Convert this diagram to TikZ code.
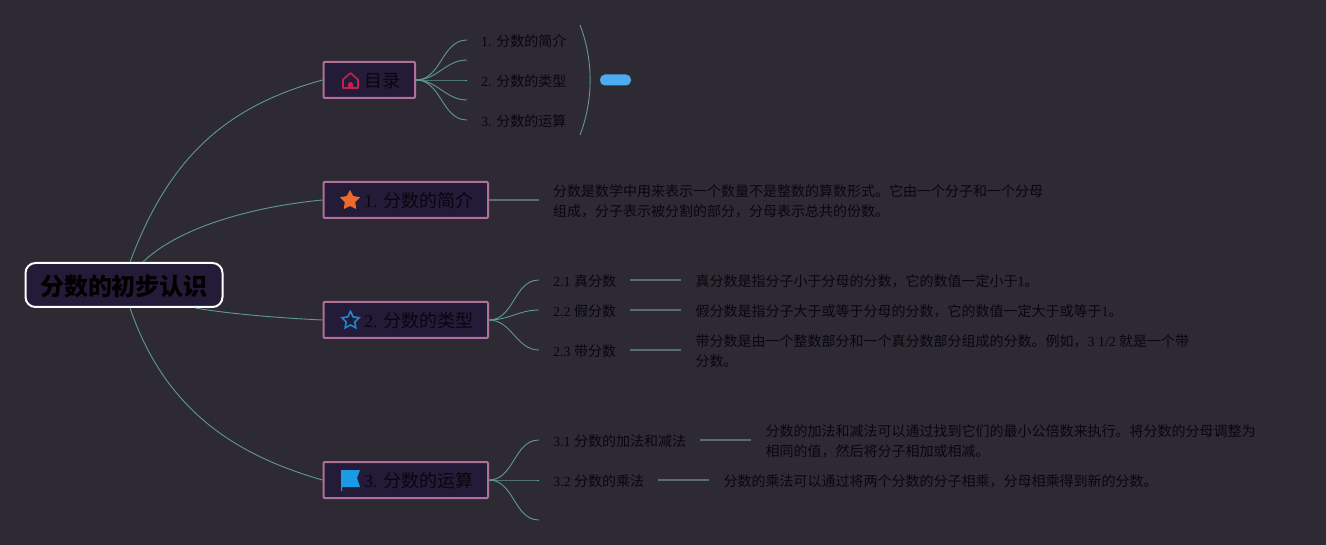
\documentclass[tikz,border=0pt]{standalone}
\usepackage{fontspec}
\setmainfont{Noto Sans CJK SC}
\newfontfamily\latfont{Liberation Serif}
\usepackage{xcolor}
\usepackage{tikz}
\usetikzlibrary{positioning,shapes.geometric}

\definecolor{bgdark}{HTML}{2E2A33}
\definecolor{boxfill}{HTML}{241B38}
\definecolor{boxpink}{HTML}{B0709A}
\definecolor{lineteal}{HTML}{5F9A90}
\definecolor{linegrey}{HTML}{566E70}
\definecolor{inkdark}{HTML}{08060E}
\definecolor{pillblue}{HTML}{4DABF0}
\definecolor{iconred}{HTML}{C2214F}
\definecolor{iconorange}{HTML}{EE6A2C}
\definecolor{iconblue}{HTML}{1E88D0}
\definecolor{iconflag}{HTML}{1B9BE6}
\newcommand{\lat}[1]{{\latfont #1}}

\begin{document}
\begin{tikzpicture}[
    x=1pt, y=-1pt,
    rootbox/.style={draw=white, line width=2pt, fill=boxfill, rounded corners=10pt, minimum width=197pt, minimum height=44pt, inner sep=0pt, anchor=west, text height=20.2pt, text depth=0pt, font=\fontsize{24}{28}\selectfont\bfseries, text=black},
    branchbox/.style={draw=boxpink, line width=2pt, fill=boxfill, rounded corners=1pt, minimum height=36pt, inner xsep=14.5pt, inner ysep=0pt, anchor=west, text height=15.6pt, text depth=0pt, font=\fontsize{18}{22}\selectfont, text=inkdark},
    leaf/.style={anchor=west, inner xsep=14pt, inner ysep=0pt, align=left, font=\fontsize{14}{20}\selectfont, text=inkdark},
    leafone/.style={anchor=west, inner xsep=14pt, inner ysep=0pt, text height=12.5pt, text depth=0pt, font=\fontsize{14}{20}\selectfont, text=inkdark},
    curveline/.style={draw=lineteal, line width=0.9pt},
    straightline/.style={draw=linegrey, line width=1.5pt}
]
\useasboundingbox (0,0) rectangle (1326,545);
\fill[bgdark] (0,0) rectangle (1326,545);

\node[rootbox] (root) at (24.5,285) {分数的初步认识};
\node[branchbox] (toc) at (322.5,80) {\hspace*{26.5pt}目录};
\node[branchbox] (intro) at (322.5,200) {\hspace*{26pt}\lat{1. }分数的简介};
\node[branchbox] (types) at (322.5,320) {\hspace*{26pt}\lat{2. }分数的类型};
\node[branchbox] (calc) at (322.5,480) {\hspace*{26pt}\lat{3. }分数的运算};

\coordinate (rootup) at (130,262);
\coordinate (rootupb) at (143,262);
\coordinate (rootdownb) at (195,308);
\coordinate (rootdown) at (130,308);
\draw[curveline] (rootup) .. controls (170,155) and (228,106) .. (toc.west);
\draw[curveline] (rootupb) .. controls (178,228) and (250,207) .. (intro.west);
\draw[curveline] (rootdownb) .. controls (230,314) and (280,318) .. (types.west);
\draw[curveline] (rootdown) .. controls (165,410) and (235,455) .. (calc.west);

\node[leafone] (toca) at (467,40) {\lat{1. }分数的简介};
\coordinate (tocb) at (467,60);
\node[leafone] (tocc) at (467,80) {\lat{2. }分数的类型};
\coordinate (tocd) at (467,100);
\node[leafone] (toce) at (467,120) {\lat{3. }分数的运算};
\foreach \n in {toca,tocb,tocc,tocd,toce}
    \draw[curveline] (toc.east) to[out=0,in=180] (\n);
\coordinate (bracetop) at (580,25);
\coordinate (bracebot) at (580,135);
\draw[curveline] (bracetop) .. controls (593.5,60) and (593.5,100) .. (bracebot);
\node[fill=pillblue, rounded corners=5pt, minimum width=31pt, minimum height=11pt, inner sep=0pt] (pill) at (615.5,80) {};

\node[leaf, inner xsep=0pt] (introtext) at (553,201) {分数是数学中用来表示一个数量不是整数的算数形式。它由一个分子和一个分母\\组成，分子表示被分割的部分，分母表示总共的份数。};
\coordinate (introend) at (539,200);
\draw[straightline] (intro.east) -- (introend);

\node[leafone] (typea) at (539,280) {\lat{2.1 }真分数};
\node[leafone] (typeb) at (539,310) {\lat{2.2 }假分数};
\node[leafone] (typec) at (539,350) {\lat{2.3 }带分数};
\foreach \n in {typea,typeb,typec}
    \draw[curveline] (types.east) to[out=0,in=180] (\n);
\node[leafone, right=51pt of typea] (texta) {真分数是指分子小于分母的分数，它的数值一定小于\lat{1}。};
\node[leafone, right=51pt of typeb] (textb) {假分数是指分子大于或等于分母的分数，它的数值一定大于或等于\lat{1}。};
\node[leaf, right=51pt of typec, yshift=-1pt] (textc) {带分数是由一个整数部分和一个真分数部分组成的分数。例如，\lat{3 1/2} 就是一个带\\分数。};
\draw[straightline] (typea) -- (texta);
\draw[straightline] (typeb) -- (textb);
\draw[straightline] (typec) -- (typec -| textc.west);

\node[leafone] (calca) at (539,440) {\lat{3.1 }分数的加法和减法};
\node[leafone] (calcb) at (539,480) {\lat{3.2 }分数的乘法};
\coordinate (calcc) at (539,520);
\foreach \n in {calca,calcb,calcc}
    \draw[curveline] (calc.east) to[out=0,in=180] (\n);
\node[leaf, right=51pt of calca, yshift=-1pt] (textd) {分数的加法和减法可以通过找到它们的最小公倍数来执行。将分数的分母调整为\\相同的值，然后将分子相加或相减。};
\node[leafone, right=51pt of calcb] (texte) {分数的乘法可以通过将两个分数的分子相乘，分母相乘得到新的分数。};
\draw[straightline] (calca) -- (calca -| textd.west);
\draw[straightline] (calcb) -- (texte);

\draw[draw=iconred, line width=1.6pt, line join=round] (343,88) -- (343,79.5) -- (350.5,73) -- (358,79.5) -- (358,88) -- cycle;
\fill[iconred] (348,88) -- (348,84.5) arc[start angle=180, end angle=0, radius=2.5pt] -- (353,88) -- cycle;
\node[star, star points=5, star point ratio=1.9, fill=iconorange, minimum size=21pt, inner sep=0pt] (staricon) at (350,200.5) {};
\node[star, star points=5, star point ratio=2, draw=iconblue, line width=1.6pt, minimum size=18pt, inner sep=0pt] (starline) at (350.5,320.5) {};
\fill[iconflag] (341,470) -- (360,470) -- (357,478) -- (360,487) -- (342,487) -- (342,491) -- (341,491) -- cycle;
\end{tikzpicture}
\end{document}
